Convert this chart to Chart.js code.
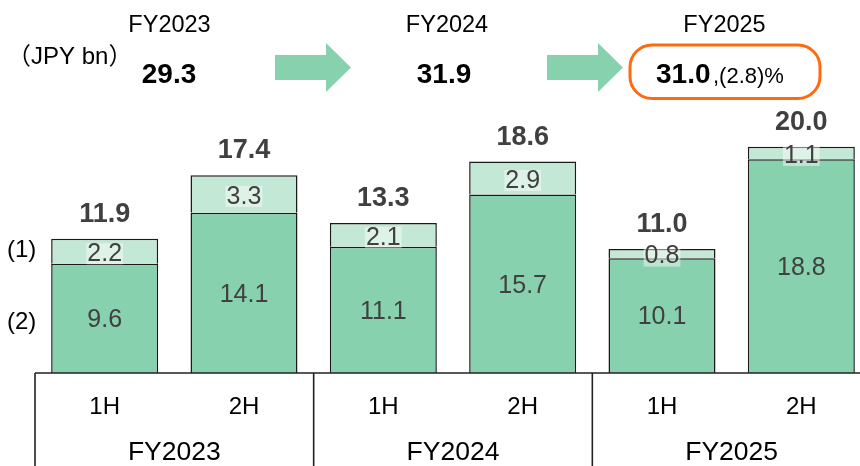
<!DOCTYPE html>
<html>
<head>
<meta charset="utf-8">
<script src="https://cdn.jsdelivr.net/npm/chart.js@4.4.1/dist/chart.umd.min.js"></script>
<style>
  html, body { margin: 0; padding: 0; background: #fff; overflow: hidden; width: 860px; height: 466px; }
  #wrap { position: absolute; left: 0; top: 0; width: 871px; height: 466px; }
</style>
</head>
<body>
<div id="wrap"><canvas id="c" width="871" height="466"></canvas></div>
<script>
// ---- data ----
const periods = ['1H', '2H', '1H', '2H', '1H', '2H'];
const fiscalYears = ['FY2023', 'FY2024', 'FY2025'];
const lowerValues = [9.6, 14.1, 11.1, 15.7, 10.1, 18.8];   // (2)
const upperValues = [2.2, 3.3, 2.1, 2.9, 0.8, 1.1];        // (1)
const totalValues = [11.9, 17.4, 13.3, 18.6, 11.0, 20.0];
const annualTotals = ['29.3', '31.9', '31.0'];
const annualChange = ',(2.8)%';
const unitLabel = '（JPY bn）';
const seriesLabels = ['(1)', '(2)'];

const FONT = '"Liberation Sans", Arial, "Noto Sans CJK JP", sans-serif';
const GREEN = '#88d1ae';
const LIGHT = '#c3e8d5';
const LABEL = '#404040';

const overlay = {
  id: 'overlay',
  afterDatasetsDraw(chart) {
    const ctx = chart.ctx;
    const xs = chart.scales.x, ys = chart.scales.y;
    const base = ys.getPixelForValue(0);
    const step = xs.getPixelForValue(1) - xs.getPixelForValue(0);
    const left = xs.getPixelForValue(0) - step / 2;
    ctx.save();
    // segment labels
    const lowerMeta = chart.getDatasetMeta(0);
    const upperMeta = chart.getDatasetMeta(1);
    ctx.textAlign = 'center';
    ctx.textBaseline = 'middle';
    ctx.font = '25px ' + FONT;
    lowerMeta.data.forEach((el, i) => {
      ctx.fillStyle = LABEL;
      ctx.fillText(lowerValues[i].toFixed(1), el.x, (el.y + el.base) / 2 + 2);
    });
    upperMeta.data.forEach((el, i) => {
      const t = upperValues[i].toFixed(1);
      const cy = (el.y + el.base) / 2 + 3;
      const w = ctx.measureText(t).width + 2;
      ctx.fillStyle = 'rgba(255,255,255,0.45)';
      ctx.fillRect(el.x - w / 2, cy - 11, w, 21);
      ctx.fillStyle = LABEL;
      ctx.fillText(t, el.x, cy);
    });
    // totals
    ctx.font = 'bold 27px ' + FONT;
    ctx.textBaseline = 'alphabetic';
    upperMeta.data.forEach((el, i) => {
      ctx.fillStyle = LABEL;
      ctx.fillText(totalValues[i].toFixed(1), el.x, el.y - 17);
    });
    // baseline + dividers
    ctx.strokeStyle = '#222';
    ctx.lineWidth = 1.6;
    ctx.beginPath();
    ctx.moveTo(left, base);
    ctx.lineTo(chart.chartArea.right, base);
    for (let g = 0; g < fiscalYears.length; g++) {
      const x = left + g * 2 * step;
      ctx.moveTo(x, base);
      ctx.lineTo(x, chart.height);
    }
    ctx.stroke();
    // tick labels
    ctx.fillStyle = '#000';
    ctx.textBaseline = 'middle';
    ctx.font = '24px ' + FONT;
    periods.forEach((p, i) => ctx.fillText(p, xs.getPixelForValue(i), base + 34));
    ctx.font = '26.5px ' + FONT;
    fiscalYears.forEach((fy, g) => {
      const cx = (xs.getPixelForValue(2 * g) + xs.getPixelForValue(2 * g + 1)) / 2;
      ctx.fillText(fy, cx, base + 80);
    });
    // series labels
    ctx.textAlign = 'left';
    ctx.font = '24px ' + FONT;
    ctx.fillText(seriesLabels[0], 7, 250);
    ctx.fillText(seriesLabels[1], 7, 322);
    // header
    ctx.textBaseline = 'alphabetic';
    ctx.textAlign = 'center';
    ctx.font = '23.5px ' + FONT;
    const hx = [169.5, 447, 724.5];
    fiscalYears.forEach((fy, g) => ctx.fillText(fy, hx[g], 32));
    ctx.font = 'bold 28px ' + FONT;
    ctx.fillText(annualTotals[0], 169, 83);
    ctx.fillText(annualTotals[1], 444, 83);
    ctx.textAlign = 'left';
    ctx.fillText(annualTotals[2], 656, 83);
    ctx.font = '22px ' + FONT;
    ctx.fillText(annualChange, 713, 83);
    ctx.font = '24px ' + FONT;
    ctx.fillText(unitLabel, 7, 64);
    // arrows
    ctx.fillStyle = GREEN;
    [[275, 326, 351], [547, 598, 623]].forEach(([a, b, c]) => {
      ctx.beginPath();
      ctx.moveTo(a, 55); ctx.lineTo(b, 55); ctx.lineTo(b, 43); ctx.lineTo(c, 67.5);
      ctx.lineTo(b, 92); ctx.lineTo(b, 80); ctx.lineTo(a, 80); ctx.closePath();
      ctx.fill();
    });
    // orange box
    ctx.strokeStyle = '#ff6a10';
    ctx.lineWidth = 3;
    ctx.beginPath();
    ctx.roundRect(630, 45, 190, 53.5, 22);
    ctx.stroke();
    ctx.restore();
  }
};

new Chart(document.getElementById('c'), {
  type: 'bar',
  data: {
    labels: periods,
    datasets: [
      { label: seriesLabels[1], data: lowerValues, backgroundColor: GREEN, borderColor: '#1a1a1a', borderWidth: 1.5 },
      { label: seriesLabels[0], data: upperValues, backgroundColor: LIGHT, borderColor: '#1a1a1a', borderWidth: 1.5 }
    ]
  },
  options: {
    responsive: false,
    animation: false,
    events: [],
    layout: { padding: { left: 35, right: 0, top: 34.6, bottom: 93 } },
    plugins: { legend: { display: false }, tooltip: { enabled: false } },
    datasets: { bar: { barPercentage: 0.768, categoryPercentage: 1 } },
    scales: {
      x: { display: false, stacked: true },
      y: { display: false, stacked: true, min: 0, max: 29.76 }
    }
  },
  plugins: [overlay]
});
</script>
</body>
</html>
